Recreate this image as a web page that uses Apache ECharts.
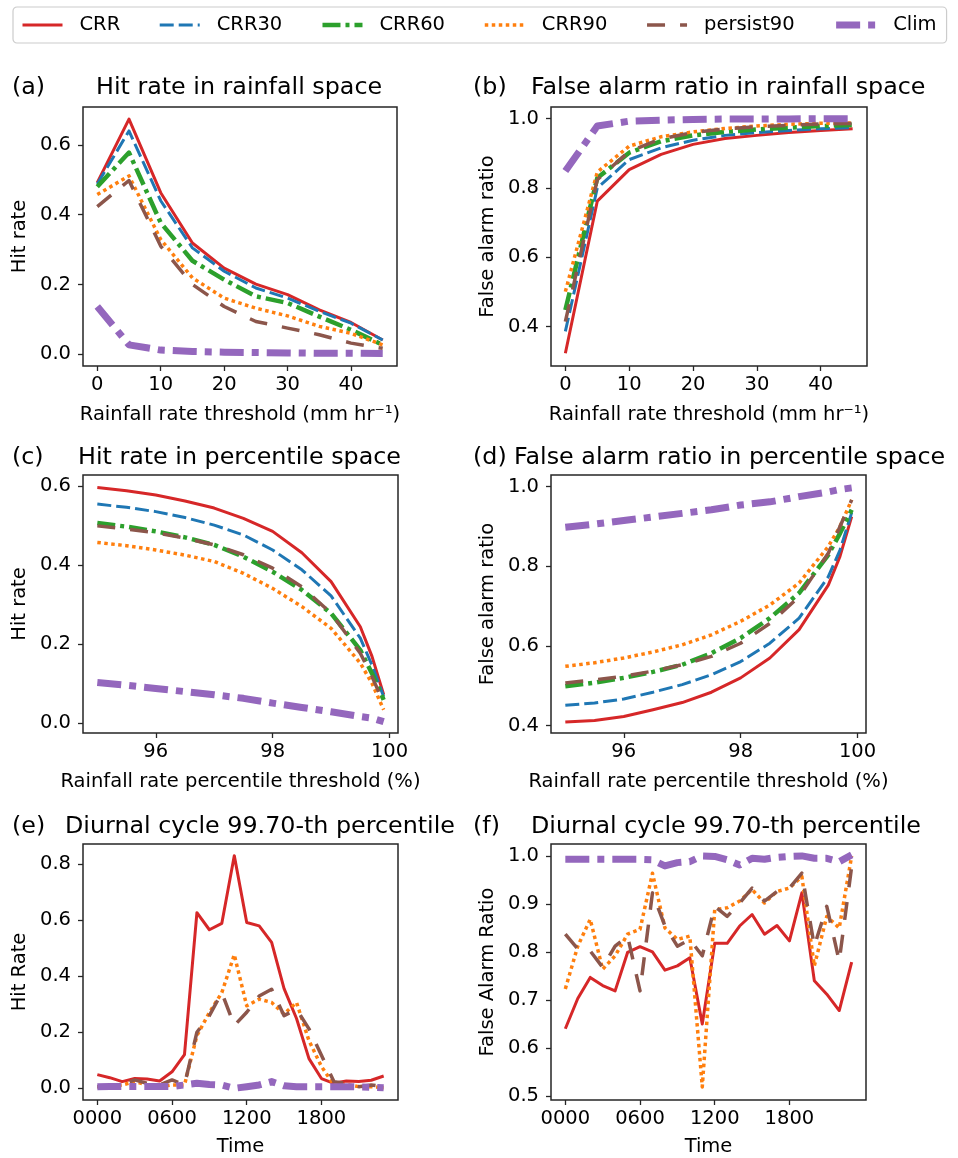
<!DOCTYPE html>
<html><head><meta charset="utf-8">
<script src="https://cdn.jsdelivr.net/npm/echarts@6/dist/echarts.min.js"></script>
<style>html,body{margin:0;padding:0;background:#fff}#c{width:958px;height:1158px}</style>
</head><body><div id="c"></div>
<script>
// ---------- DATA ----------
const seriesNames = ['CRR', 'CRR30', 'CRR60', 'CRR90', 'persist90', 'Clim'];

// (a)/(b) rainfall-rate thresholds (mm/hr)
const rainThresholds = [0, 5, 10, 15, 20, 25, 30, 35, 40, 45];
const hitRain_CRR       = [0.492, 0.674, 0.463, 0.319, 0.247, 0.201, 0.171, 0.127, 0.091, 0.041];
const hitRain_CRR30     = [0.488, 0.640, 0.440, 0.305, 0.238, 0.190, 0.161, 0.123, 0.089, 0.041];
const hitRain_CRR60     = [0.480, 0.578, 0.377, 0.268, 0.214, 0.166, 0.147, 0.108, 0.070, 0.027];
const hitRain_CRR90     = [0.458, 0.511, 0.329, 0.219, 0.161, 0.132, 0.110, 0.080, 0.060, 0.027];
const hitRain_persist90 = [0.423, 0.498, 0.310, 0.200, 0.137, 0.094, 0.075, 0.056, 0.032, 0.017];
const hitRain_Clim      = [0.137, 0.027, 0.012, 0.008, 0.006, 0.005, 0.004, 0.003, 0.003, 0.002];

const farRain_CRR       = [0.323, 0.762, 0.853, 0.897, 0.926, 0.943, 0.952, 0.960, 0.966, 0.971];
const farRain_CRR30     = [0.386, 0.800, 0.882, 0.916, 0.938, 0.952, 0.960, 0.966, 0.971, 0.974];
const farRain_CRR60     = [0.448, 0.829, 0.902, 0.935, 0.952, 0.962, 0.969, 0.974, 0.979, 0.982];
const farRain_CRR90     = [0.501, 0.846, 0.921, 0.948, 0.962, 0.972, 0.979, 0.984, 0.987, 0.988];
const farRain_persist90 = [0.414, 0.824, 0.906, 0.942, 0.960, 0.971, 0.977, 0.981, 0.985, 0.986];
const farRain_Clim      = [0.849, 0.979, 0.993, 0.996, 0.998, 0.999, 0.999, 0.9995, 1.000, 1.000];

// (c)/(d) percentile thresholds (%)
const pctThresholds = [95, 95.5, 96, 96.5, 97, 97.5, 98, 98.5, 99, 99.5, 99.7, 99.9];
const hitPct_CRR       = [0.596, 0.588, 0.577, 0.562, 0.544, 0.518, 0.485, 0.431, 0.358, 0.244, 0.169, 0.072];
const hitPct_CRR30     = [0.554, 0.546, 0.535, 0.520, 0.501, 0.476, 0.438, 0.388, 0.322, 0.215, 0.147, 0.067];
const hitPct_CRR60     = [0.506, 0.497, 0.485, 0.470, 0.451, 0.421, 0.383, 0.337, 0.278, 0.185, 0.126, 0.059];
const hitPct_CRR90     = [0.457, 0.449, 0.438, 0.425, 0.409, 0.379, 0.341, 0.295, 0.240, 0.152, 0.101, 0.034];
const hitPct_persist90 = [0.499, 0.491, 0.482, 0.468, 0.451, 0.426, 0.392, 0.345, 0.278, 0.177, 0.118, 0.051];
const hitPct_Clim      = [0.103, 0.096, 0.088, 0.080, 0.072, 0.063, 0.051, 0.040, 0.029, 0.017, 0.013, 0.004];

const farPct_CRR       = [0.409, 0.413, 0.423, 0.440, 0.458, 0.484, 0.520, 0.570, 0.641, 0.753, 0.825, 0.925];
const farPct_CRR30     = [0.451, 0.457, 0.467, 0.484, 0.503, 0.528, 0.561, 0.607, 0.670, 0.774, 0.841, 0.935];
const farPct_CRR60     = [0.499, 0.508, 0.520, 0.535, 0.553, 0.582, 0.620, 0.670, 0.733, 0.829, 0.883, 0.942];
const farPct_CRR90     = [0.549, 0.558, 0.570, 0.585, 0.603, 0.628, 0.662, 0.703, 0.758, 0.850, 0.900, 0.967];
const farPct_persist90 = [0.507, 0.515, 0.524, 0.537, 0.553, 0.574, 0.607, 0.657, 0.724, 0.833, 0.900, 0.967];
const farPct_Clim      = [0.898, 0.906, 0.915, 0.924, 0.933, 0.942, 0.954, 0.962, 0.975, 0.987, 0.993, 0.997];

// (e)/(f) diurnal cycle, hour of day
const hours = [0, 1, 2, 3, 4, 5, 6, 7, 8, 9, 10, 11, 12, 13, 14, 15, 16, 17, 18, 19, 20, 21, 22, 23];
const hitDiurnal_CRR       = [0.049, 0.038, 0.024, 0.035, 0.033, 0.026, 0.059, 0.120, 0.626, 0.565, 0.588, 0.829, 0.591, 0.579, 0.520, 0.355, 0.249, 0.106, 0.035, 0.018, 0.026, 0.024, 0.029, 0.044];
const hitDiurnal_CRR90     = [0.006, 0.006, 0.012, 0.024, 0.012, 0.006, 0.012, 0.012, 0.188, 0.270, 0.341, 0.476, 0.294, 0.318, 0.306, 0.265, 0.306, 0.170, 0.078, 0.012, 0.014, 0.006, 0.006, 0.002];
const hitDiurnal_persist90 = [0.006, 0.006, 0.012, 0.030, 0.018, 0.012, 0.030, 0.012, 0.200, 0.259, 0.341, 0.224, 0.271, 0.329, 0.353, 0.259, 0.282, 0.212, 0.118, 0.024, 0.018, 0.006, 0.012, 0.006];
const hitDiurnal_Clim      = [0.006, 0.007, 0.007, 0.007, 0.007, 0.007, 0.007, 0.012, 0.018, 0.014, 0.012, 0.000, 0.006, 0.012, 0.024, 0.009, 0.006, 0.006, 0.006, 0.006, 0.006, 0.005, 0.004, 0.002];

const farDiurnal_CRR       = [0.640, 0.703, 0.747, 0.730, 0.719, 0.799, 0.811, 0.800, 0.762, 0.771, 0.788, 0.650, 0.818, 0.818, 0.854, 0.878, 0.837, 0.855, 0.823, 0.923, 0.740, 0.712, 0.678, 0.779];
const farDiurnal_CRR90     = [0.723, 0.812, 0.868, 0.764, 0.792, 0.837, 0.847, 0.964, 0.850, 0.826, 0.833, 0.519, 0.888, 0.892, 0.906, 0.930, 0.902, 0.926, 0.933, 0.957, 0.771, 0.874, 0.850, 1.000];
const farDiurnal_persist90 = [0.837, 0.806, 0.802, 0.768, 0.812, 0.833, 0.719, 0.923, 0.854, 0.812, 0.826, 0.792, 0.895, 0.874, 0.902, 0.933, 0.906, 0.926, 0.933, 0.964, 0.812, 0.895, 0.781, 0.978];
const farDiurnal_Clim      = [0.993, 0.993, 0.993, 0.993, 0.993, 0.993, 0.993, 0.992, 0.979, 0.986, 0.988, 1.000, 0.999, 0.992, 0.981, 0.995, 0.993, 0.997, 0.999, 1.000, 0.995, 0.995, 0.988, 1.002];

// tick values / labels
const rainTicks = [0, 10, 20, 30, 40];
const pctTicks = [96, 98, 100];
const timeTicks = [0, 6, 12, 18];
const timeTickLabels = ['0000', '0600', '1200', '1800'];
const hitTicks = [0, 0.2, 0.4, 0.6];
const farTicks = [0.4, 0.6, 0.8, 1.0];
const hitDiurnalTicks = [0, 0.2, 0.4, 0.6, 0.8];
const farDiurnalTicks = [0.5, 0.6, 0.7, 0.8, 0.9, 1.0];

// ---------- STYLE ----------
const FONT = 'DejaVu Sans';
const styles = {
  'CRR':       { color: '#d62728', width: 3,   type: 'solid' },
  'CRR30':     { color: '#1f77b4', width: 3,   type: [14, 5] },
  'CRR60':     { color: '#2ca02c', width: 4.5, type: [18, 5, 4, 5] },
  'CRR90':     { color: '#ff7f0e', width: 3.5, type: [3.5, 3.5] },
  'persist90': { color: '#8c564b', width: 3.5, type: [18, 15] },
  'Clim':      { color: '#9467bd', width: 7,   type: [24, 8, 7, 8] }
};

const panels = [
  { grid: { left: 83, top: 107, width: 314, height: 259 }, xs: rainThresholds,
    ys: { CRR: hitRain_CRR, CRR30: hitRain_CRR30, CRR60: hitRain_CRR60, CRR90: hitRain_CRR90, persist90: hitRain_persist90, Clim: hitRain_Clim },
    xMin: -2.25, xMax: 47.25, yMin: -0.0336, yMax: 0.7086, xTicks: rainTicks, yTicks: hitTicks,
    xName: 'Rainfall rate threshold (mm hr\u207B\u00B9)', yName: 'Hit rate' },
  { grid: { left: 551, top: 107, width: 316, height: 259 }, xs: rainThresholds,
    ys: { CRR: farRain_CRR, CRR30: farRain_CRR30, CRR60: farRain_CRR60, CRR90: farRain_CRR90, persist90: farRain_persist90, Clim: farRain_Clim },
    xMin: -2.25, xMax: 47.25, yMin: 0.2862, yMax: 1.0339, xTicks: rainTicks, yTicks: farTicks,
    xName: 'Rainfall rate threshold (mm hr\u207B\u00B9)', yName: 'False alarm ratio' },
  { grid: { left: 83, top: 475, width: 315, height: 258 }, xs: pctThresholds,
    ys: { CRR: hitPct_CRR, CRR30: hitPct_CRR30, CRR60: hitPct_CRR60, CRR90: hitPct_CRR90, persist90: hitPct_persist90, Clim: hitPct_Clim },
    xMin: 94.755, xMax: 100.145, yMin: -0.0246, yMax: 0.6276, xTicks: pctTicks, yTicks: hitTicks,
    xName: 'Rainfall rate percentile threshold (%)', yName: 'Hit rate' },
  { grid: { left: 551, top: 475, width: 315, height: 258 }, xs: pctThresholds,
    ys: { CRR: farPct_CRR, CRR30: farPct_CRR30, CRR60: farPct_CRR60, CRR90: farPct_CRR90, persist90: farPct_persist90, Clim: farPct_Clim },
    xMin: 94.755, xMax: 100.145, yMin: 0.3816, yMax: 1.0294, xTicks: pctTicks, yTicks: farTicks,
    xName: 'Rainfall rate percentile threshold (%)', yName: 'False alarm ratio' },
  { grid: { left: 83, top: 844, width: 315, height: 258 }, xs: hours,
    ys: { CRR: hitDiurnal_CRR, CRR90: hitDiurnal_CRR90, persist90: hitDiurnal_persist90, Clim: hitDiurnal_Clim },
    xMin: -1.15, xMax: 24.15, yMin: -0.0415, yMax: 0.8705, xTicks: timeTicks, yTicks: hitDiurnalTicks,
    xName: 'Time', yName: 'Hit Rate', timeAxis: true },
  { grid: { left: 551, top: 844, width: 315, height: 258 }, xs: hours,
    ys: { CRR: farDiurnal_CRR, CRR90: farDiurnal_CRR90, persist90: farDiurnal_persist90, Clim: farDiurnal_Clim },
    xMin: -1.15, xMax: 24.15, yMin: 0.4917, yMax: 1.0248, xTicks: timeTicks, yTicks: farDiurnalTicks,
    xName: 'Time', yName: 'False Alarm Ratio', timeAxis: true }
];

const titles = [
  { tag: '(a)', tagX: 12,  text: 'Hit rate in rainfall space',              x: 96,  y: 88 },
  { tag: '(b)', tagX: 473, text: 'False alarm ratio in rainfall space',     x: 531, y: 88 },
  { tag: '(c)', tagX: 12,  text: 'Hit rate in percentile space',            x: 78,  y: 458 },
  { tag: '(d)', tagX: 473, text: 'False alarm ratio in percentile space',   x: 514, y: 458 },
  { tag: '(e)', tagX: 12,  text: 'Diurnal cycle 99.70-th percentile',       x: 65,  y: 827 },
  { tag: '(f)', tagX: 473, text: 'Diurnal cycle 99.70-th percentile',       x: 531, y: 827 }
];

// ---------- BUILD ----------
const grids = [], xAxes = [], yAxes = [], series = [], graphics = [];
const tickStyle = { color: '#262626', width: 1.3 };
panels.forEach((p, i) => {
  grids.push(Object.assign({ show: true, borderColor: '#262626', borderWidth: 1.5, backgroundColor: 'transparent', containLabel: false }, p.grid));
  xAxes.push({
    type: 'value', gridIndex: i, min: p.xMin, max: p.xMax,
    axisLine: { show: false, onZero: false }, splitLine: { show: false },
    axisTick: { show: true, length: 5, lineStyle: tickStyle, customValues: p.xTicks },
    axisLabel: { customValues: p.xTicks, fontSize: 19.5, fontFamily: FONT, color: '#000', margin: 9,
      formatter: p.timeAxis ? (v) => timeTickLabels[timeTicks.indexOf(Math.round(v))] : (v) => String(Math.round(v)) },
    name: p.xName, nameLocation: 'middle', nameGap: p.timeAxis ? 37 : 39,
    nameTextStyle: { fontSize: 19.5, fontFamily: FONT, color: '#000' }
  });
  yAxes.push({
    type: 'value', gridIndex: i, min: p.yMin, max: p.yMax,
    axisLine: { show: false, onZero: false }, splitLine: { show: false },
    axisTick: { show: true, length: 5, lineStyle: tickStyle, customValues: p.yTicks },
    axisLabel: { customValues: p.yTicks, fontSize: 19.5, fontFamily: FONT, color: '#000', margin: 12,
      formatter: (v) => v.toFixed(1) },
    name: p.yName, nameLocation: 'middle', nameGap: 53,
    nameTextStyle: { fontSize: 19.5, fontFamily: FONT, color: '#000' }
  });
  seriesNames.forEach((n) => {
    const ys = p.ys[n];
    if (!ys) return;
    const st = styles[n];
    series.push({
      type: 'line', name: n, xAxisIndex: i, yAxisIndex: i,
      data: p.xs.map((x, k) => [x, ys[k]]),
      symbol: 'none', showSymbol: false, silent: true, animation: false,
      lineStyle: { color: st.color, width: st.width, type: st.type, cap: 'butt', join: 'round' },
      itemStyle: { color: st.color }
    });
  });
});
titles.forEach((t) => {
  graphics.push({ type: 'text', x: t.tagX, y: t.y, style: { text: t.tag, font: '23.8px "' + FONT + '"', fill: '#000', align: 'left', verticalAlign: 'middle' } });
  graphics.push({ type: 'text', x: t.x, y: t.y, style: { text: t.text, font: '23.8px "' + FONT + '"', fill: '#000', align: 'left', verticalAlign: 'middle' } });
});

const chart = echarts.init(document.getElementById('c'), null, { renderer: 'canvas' });
chart.setOption({
  animation: false,
  backgroundColor: '#fff',
  legend: {
    data: seriesNames, left: 13, top: 7, width: 945, padding: [8, 10, 8, 8],
    itemWidth: 40, itemHeight: 14, itemGap: 38,
    borderColor: '#cccccc', borderWidth: 1.2, borderRadius: 4,
    textStyle: { fontSize: 19.5, fontFamily: FONT, color: '#000', padding: [0, 0, 0, 12] },
    lineStyle: { width: 'inherit' },
    itemStyle: { opacity: 0 },
    selectedMode: false
  },
  grid: grids, xAxis: xAxes, yAxis: yAxes, series: series, graphic: graphics
});
</script></body></html>
